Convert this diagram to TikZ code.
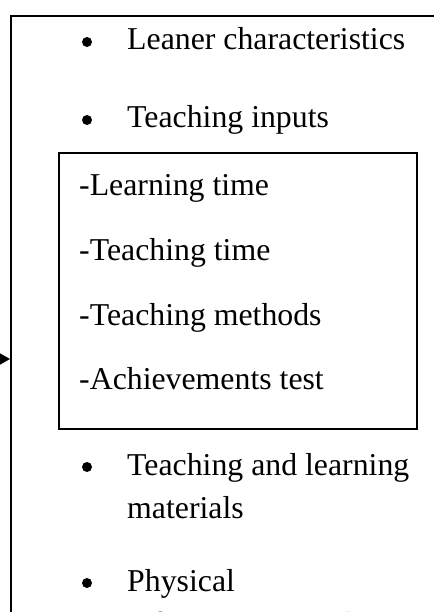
\documentclass[tikz,border=0pt]{standalone}
\usepackage{fontspec}
\setmainfont{Liberation Serif}
\usetikzlibrary{arrows.meta}
\begin{document}
\begin{tikzpicture}[x=1pt,y=-1pt,
  txt/.style={anchor=base west, inner sep=0pt, font=\fontsize{31.8}{43}\selectfont},
  bul/.style={circle, fill=black, inner sep=0pt, minimum size=10pt},
  frame/.style={draw=black, line width=1.6pt, inner sep=0pt},
  conn/.style={draw=black, line width=1.6pt, -{Triangle[length=10pt,width=11pt]}}]
\useasboundingbox (0,0) rectangle (433,612);
% outer box (extends beyond the visible area)
\node[frame, anchor=north west, minimum width=520pt, minimum height=720pt] (outer) at (10,15) {};
% inner box
\node[frame, anchor=north west, minimum width=358pt, minimum height=276pt] (inner) at (58,152) {};
% bullets and texts
\node[bul] (b1) at (87,42) {};
\node[txt] (t1) at (127,50) {Leaner characteristics};
\node[bul] (b2) at (87,120) {};
\node[txt] (t2) at (127,128) {Teaching inputs};
\node[txt] (i1) at (79,196) {-Learning time};
\node[txt] (i2) at (79,260) {-Teaching time};
\node[txt] (i3) at (79,325) {-Teaching methods};
\node[txt] (i4) at (79,389) {-Achievements test};
\node[bul] (b3) at (87,467) {};
\node[txt] (t3a) at (127,475) {Teaching and learning};
\node[txt] (t3b) at (127,518) {materials};
\node[bul] (b4) at (87,583) {};
\node[txt] (t4a) at (127,591) {Physical};
\node[txt] (t4b) at (127,634) {infrastructure and};
% incoming arrow
\coordinate (src) at (-40,359);
\draw[conn] (src) -- (src -| outer.west);
\end{tikzpicture}
\end{document}
